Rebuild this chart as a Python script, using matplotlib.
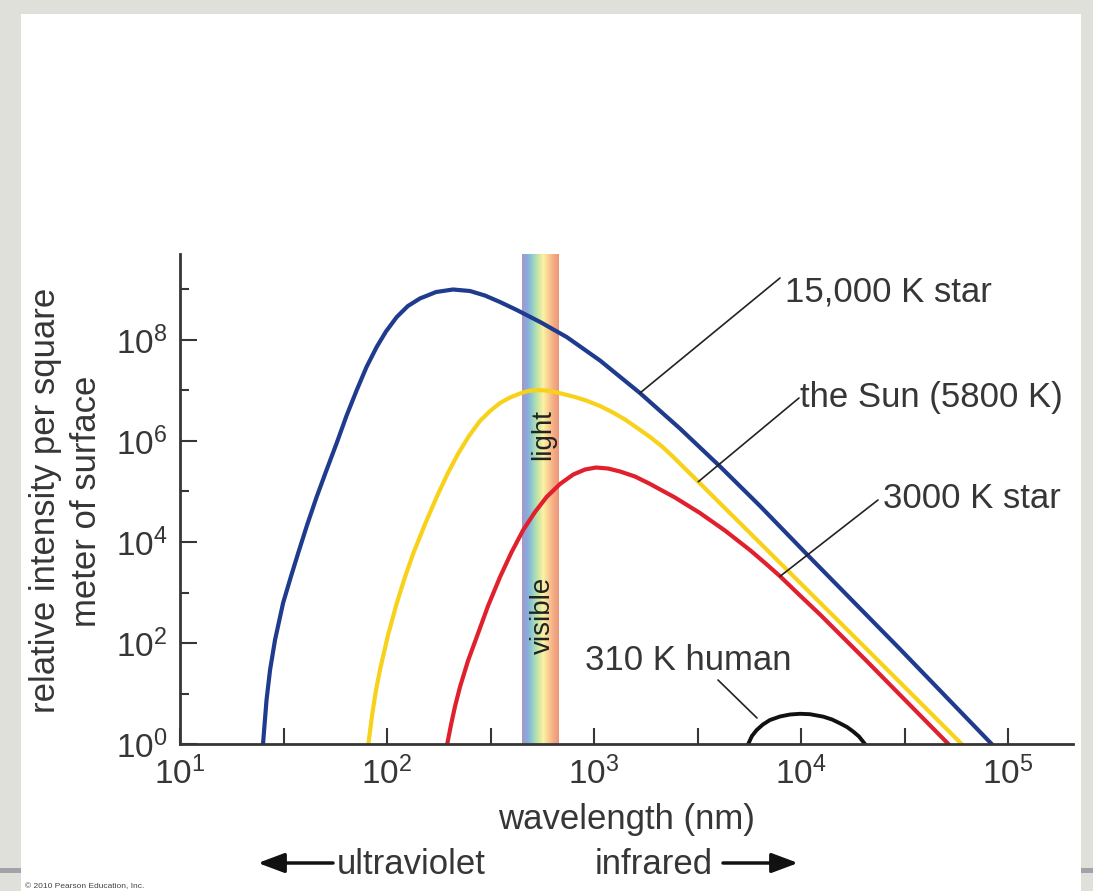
import matplotlib
matplotlib.use("Agg")
import matplotlib.pyplot as plt
import numpy as np
from matplotlib.colors import LinearSegmentedColormap
from matplotlib.patches import Rectangle

plt.rcParams["font.family"] = ["Liberation Sans", "DejaVu Sans"]
plt.rcParams["mathtext.fontset"] = "custom"
plt.rcParams["mathtext.rm"] = "Liberation Sans"

W, H = 1093, 891
TXT = "#363636"

# curves, as log10(wavelength / nm) and log10(relative intensity)
star_hot_logwl = [1.401, 1.418, 1.435, 1.459, 1.498, 1.536, 1.571, 1.614, 1.660, 1.708, 1.757, 1.804,
                  1.854, 1.901, 1.950, 1.995, 2.047, 2.101, 2.159, 2.237, 2.319, 2.401, 2.473, 2.546,
                  2.627, 2.744, 2.868, 3.029, 3.222, 3.415, 3.609, 3.802, 4.027, 4.478, 4.921]
star_hot_logint = [0, 0.871, 1.465, 2.059, 2.792, 3.317, 3.782, 4.337, 4.891, 5.426, 5.960, 6.495,
                   7.010, 7.465, 7.861, 8.168, 8.455, 8.673, 8.822, 8.950, 9.000, 8.970, 8.881, 8.752,
                   8.594, 8.347, 8.059, 7.594, 6.950, 6.248, 5.495, 4.713, 3.762, 1.881, 0]

sun_logwl = [1.910, 1.928, 1.947, 1.966, 2.005, 2.047, 2.087, 2.127, 2.184, 2.240, 2.292, 2.344,
             2.396, 2.449, 2.498, 2.546, 2.594, 2.643, 2.681, 2.725, 2.768, 2.812, 2.860, 2.908,
             2.966, 3.029, 3.087, 3.150, 3.208, 3.271, 3.329, 3.391, 3.444, 3.504, 3.705, 3.931,
             4.317, 4.776]
sun_logint = [0, 0.574, 1.069, 1.465, 2.158, 2.786, 3.307, 3.776, 4.356, 4.891, 5.347, 5.752,
              6.099, 6.396, 6.594, 6.752, 6.861, 6.941, 6.990, 7.010, 7.000, 6.970, 6.921, 6.871,
              6.796, 6.693, 6.574, 6.426, 6.261, 6.079, 5.891, 5.653, 5.436, 5.194, 4.376, 3.455,
              1.881, 0]

star_cool_logwl = [2.291, 2.309, 2.329, 2.353, 2.391, 2.433, 2.488, 2.546, 2.601, 2.658, 2.715, 2.771,
                   2.836, 2.900, 2.957, 3.010, 3.068, 3.126, 3.198, 3.271, 3.391, 3.512, 3.633, 3.754,
                   3.826, 3.899, 3.995, 4.092, 4.317, 4.712]
star_cool_logint = [0, 0.376, 0.752, 1.135, 1.644, 2.113, 2.733, 3.307, 3.792, 4.238, 4.594, 4.891,
                    5.149, 5.337, 5.436, 5.475, 5.455, 5.396, 5.297, 5.149, 4.881, 4.574, 4.226, 3.838,
                    3.586, 3.321, 2.941, 2.564, 1.644, 0]

human_logwl = [3.745, 3.763, 3.786, 3.816, 3.850, 3.899, 3.947, 3.995, 4.043, 4.108, 4.150, 4.188,
               4.222, 4.253, 4.280, 4.309]
human_logint = [0, 0.158, 0.277, 0.386, 0.475, 0.545, 0.584, 0.598, 0.590, 0.541, 0.485, 0.410,
                0.337, 0.244, 0.149, 0]

visible_range = [450, 680]
x_major = [1e1, 1e2, 1e3, 1e4, 1e5]
x_minor = [10 ** 1.5, 10 ** 2.5, 10 ** 3.5, 10 ** 4.5]
y_major = [1e0, 1e2, 1e4, 1e6, 1e8]
y_minor = [1e1, 1e3, 1e5, 1e7, 1e9]
x_labels = [r"$\mathregular{10^{%d}}$" % e for e in range(1, 6)]
y_labels = [r"$\mathregular{10^{%d}}$" % e for e in range(0, 9, 2)]


def fx(x):
    return x / W


def fy(y):
    return 1 - y / H


def curve(logwl, logint):
    return 10 ** np.array(logwl), 10 ** np.array(logint)


fig = plt.figure(figsize=(W / 100, H / 100), dpi=100, facecolor="#e0e0da")
fig.patches.append(Rectangle((fx(21), 0), fx(1081) - fx(21), fy(14), transform=fig.transFigure,
                             facecolor="white", edgecolor="none", zorder=-2))
for x0, x1 in [(0, 21), (1081, W)]:
    fig.patches.append(Rectangle((fx(x0), fy(873)), fx(x1) - fx(x0), 5 / H, transform=fig.transFigure,
                                 facecolor="#a2a2a8", edgecolor="none", zorder=-2))

ax = fig.add_axes([fx(180), fy(744), fx(1073) - fx(180), (744 - 254) / H])
ax.set_facecolor("none")
ax.set_xscale("log")
ax.set_yscale("log")
ax.set_xlim(1e1, 10 ** (1 + 893 / 207))
ax.set_ylim(1, 10 ** (490 / 50.5))

# visible light band
band_cmap = LinearSegmentedColormap.from_list(
    "band", ["#a597cb", "#84addd", "#95d1c6", "#c9e5a3", "#fbf1a4", "#f9cc90", "#f3aa84", "#ee9478"])
edges = np.geomspace(visible_range[0], visible_range[1], 80)
ax.pcolormesh(edges, [1, ax.get_ylim()[1]], np.arange(79).reshape(1, -1), cmap=band_cmap,
              shading="flat", antialiased=False, linewidth=0, zorder=1)

hot = curve(star_hot_logwl, star_hot_logint)
sun = curve(sun_logwl, sun_logint)
cool = curve(star_cool_logwl, star_cool_logint)
human = curve(human_logwl, human_logint)

ax.plot(*hot, color="#1f3b8e", lw=3, zorder=3)
ax.plot(*sun, color="#f8d21a", lw=3, zorder=3)
ax.plot(*cool, color="#e0212d", lw=3, zorder=3)
ax.plot(*human, color="#111111", lw=2.8, zorder=3)

for s in ["top", "right"]:
    ax.spines[s].set_visible(False)
for s in ["left", "bottom"]:
    ax.spines[s].set_linewidth(2)
    ax.spines[s].set_color(TXT)
    ax.spines[s].set_zorder(4)

ax.set_xticks(x_major, x_labels)
ax.set_xticks(x_minor, minor=True)
ax.set_yticks(y_major, y_labels)
ax.set_yticks(y_minor, minor=True)
ax.xaxis.set_minor_formatter(plt.NullFormatter())
ax.yaxis.set_minor_formatter(plt.NullFormatter())
ax.tick_params(axis="x", which="both", direction="in", length=11.5, width=1.5, color=TXT,
               labelsize=24, labelcolor=TXT, pad=9)
ax.tick_params(axis="y", which="major", direction="in", length=12, width=1.5, color=TXT,
               labelsize=24, labelcolor=TXT, pad=9)
ax.tick_params(axis="y", which="minor", direction="in", length=6.5, width=1.5, color=TXT)

# leader lines from the labels to the curves
lead = dict(arrowstyle="-", lw=1.2, color="#222222", shrinkA=0, shrinkB=0)
ax.annotate("", xy=(hot[0][28], hot[1][28]), xytext=(780, H - 278),
            textcoords="figure pixels", arrowprops=lead)
ax.annotate("", xy=(sun[0][33], sun[1][33]), xytext=(799, H - 398),
            textcoords="figure pixels", arrowprops=lead)
ax.annotate("", xy=(cool[0][25], cool[1][25]), xytext=(878, H - 500),
            textcoords="figure pixels", arrowprops=lead)
ax.annotate("", xy=(757, H - 718), xycoords="figure pixels", xytext=(718, H - 680),
            textcoords="figure pixels", arrowprops=lead)

big = dict(fontsize=25, color=TXT, va="baseline")
fig.text(fx(785), fy(302), "15,000 K star", **big)
fig.text(fx(800), fy(407), "the Sun (5800 K)", **big)
fig.text(fx(883), fy(508), "3000 K star", **big)
fig.text(fx(585), fy(670), "310 K human", **big)
fig.text(fx(626), fy(829), "wavelength (nm)", ha="center", **big)
fig.text(fx(337), fy(874), "ultraviolet", **big)
fig.text(fx(595), fy(874), "infrared", **big)

rot = dict(rotation=90, rotation_mode="anchor", ha="center", va="baseline")
fig.text(fx(55), fy(500), "relative intensity per square", fontsize=25, color=TXT, **rot)
fig.text(fx(96), fy(501), "meter of surface", fontsize=25, color=TXT, **rot)
fig.text(fx(550), fy(435), "light", fontsize=20, color="#222222", zorder=5, **rot)
fig.text(fx(550), fy(615), "visible", fontsize=20, color="#222222", zorder=5, **rot)

arrow = dict(arrowstyle="-|>,head_length=0.8,head_width=0.3", lw=2.5, color="#111111",
             shrinkA=0, shrinkB=0, mutation_scale=20)
ax.annotate("", xy=(258, H - 863), xycoords="figure pixels", xytext=(333, H - 863),
            textcoords="figure pixels", arrowprops=arrow, annotation_clip=False)
ax.annotate("", xy=(798, H - 863), xycoords="figure pixels", xytext=(723, H - 863),
            textcoords="figure pixels", arrowprops=arrow, annotation_clip=False)

fig.text(fx(25), fy(888), "\u00a9 2010 Pearson Education, Inc.", fontsize=6, color="#444444", va="baseline")

fig.savefig("out.png", dpi=100, facecolor=fig.get_facecolor())
